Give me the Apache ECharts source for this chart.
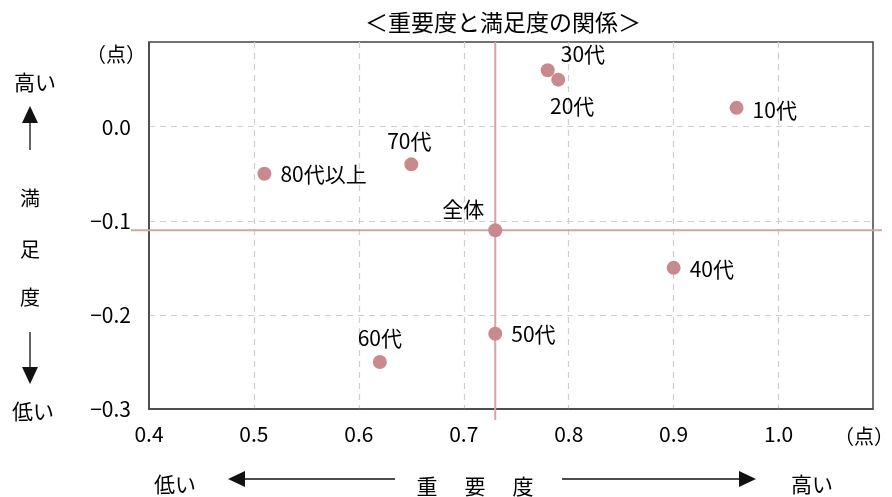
<!DOCTYPE html>
<html><head><meta charset="utf-8">
<script src="https://cdn.jsdelivr.net/npm/echarts@6/dist/echarts.min.js"></script>
<style>html,body{margin:0;padding:0;background:#fff}#c{width:892px;height:497px}</style>
</head><body><div id="c"></div>
<script>
const names = ['10代','20代','30代','40代','50代','60代','70代','80代以上'];
const importance = [0.96, 0.79, 0.78, 0.90, 0.73, 0.62, 0.65, 0.51];
const satisfaction = [0.02, 0.05, 0.06, -0.15, -0.22, -0.25, -0.04, -0.05];
const totalName = '全体';
const totalImportance = 0.73;
const totalSatisfaction = -0.11;
const labelPos = {
  '10代': {position:'right', distance:9, offset:[0,2]},
  '20代': {position:'bottom', distance:6, offset:[14,3]},
  '30代': {position:'right', distance:6, offset:[0,-16]},
  '40代': {position:'right', distance:9, offset:[0,1]},
  '50代': {position:'right', distance:9, offset:[0,0]},
  '60代': {position:'top', distance:6, offset:[0,0]},
  '70代': {position:'top', distance:6, offset:[-2,0]},
  '80代以上': {position:'right', distance:9, offset:[0,0]},
  '全体': {position:'top', distance:4, offset:[-32,0]}
};
const FONT = '"Noto Sans CJK JP", sans-serif';
const dotColor = '#c98a8d';
const lineColor = '#d7a3a6';

const pts = names.map((n,i)=>({name:n, value:[importance[i], satisfaction[i]], label:labelPos[n]}));
pts.push({name:totalName, value:[totalImportance,totalSatisfaction], label:labelPos[totalName]});

const chart = echarts.init(document.getElementById('c'));
function T(text, x, y, size, align){
  return {type:'text', x:x, y:y, style:{text:text, fontFamily:FONT, fontSize:size||20, fill:'#000',
    align:align||'center', verticalAlign:'middle'}};
}
function arrowPoly(pts){return {type:'polygon', shape:{points:pts}, style:{fill:'#111'}};}
function ln(x1,y1,x2,y2){return {type:'line', shape:{x1,y1,x2,y2}, style:{stroke:'#111', lineWidth:1.3}};}

chart.setOption({
  animation:false,
  title:{text:'＜重要度と満足度の関係＞', left:498, top:6, textAlign:'center',
    textStyle:{fontFamily:FONT, fontSize:23, fontWeight:'normal', color:'#000'}},
  grid:{left:149, right:19, top:42, bottom:88, show:true, borderColor:'#444', borderWidth:1.5},
  xAxis:{type:'value', min:0.4, max:1.09, interval:0.1,
    axisLine:{show:true, onZero:false, lineStyle:{color:'#444', width:1.5}},
    axisTick:{show:false},
    splitLine:{show:true, showMinLine:false, showMaxLine:false, lineStyle:{color:'#cfcfcf', type:[6,5], width:1.2}},
    axisLabel:{margin:15, showMaxLabel:false, fontFamily:FONT, fontSize:21, color:'#000',
      formatter:v=>v.toFixed(1)}},
  yAxis:{type:'value', min:-0.3, max:0.09, interval:0.1,
    axisLine:{show:true, onZero:false, lineStyle:{color:'#444', width:1.5}},
    axisTick:{show:false},
    splitLine:{show:true, showMinLine:false, showMaxLine:false, lineStyle:{color:'#cfcfcf', type:[6,5], width:1.2}},
    axisLabel:{margin:18, showMaxLabel:false, fontFamily:FONT, fontSize:21, color:'#000',
      formatter:v=>(Math.abs(v)<1e-9?0:v).toFixed(1).replace('-','−')}},
  series:[{type:'scatter', symbolSize:14, z:5,
    itemStyle:{color:dotColor, opacity:1},
    label:{show:true, formatter:'{b}', fontFamily:FONT, fontSize:21, color:'#000'},
    data:pts}]
});

const c = chart.convertToPixel({gridIndex:0}, [totalImportance, totalSatisfaction]);
chart.setOption({graphic:[
  {type:'line', z:3, shape:{x1:131, y1:c[1], x2:882, y2:c[1]}, style:{stroke:lineColor, lineWidth:2}},
  {type:'line', z:3, shape:{x1:c[0], y1:42, x2:c[0], y2:420}, style:{stroke:lineColor, lineWidth:2}},
  T('（点）', 116, 54, 20),
  T('（点）', 864, 436, 20),
  T('高い', 35, 82, 21),
  T('低い', 33, 411, 21),
  T('満', 30, 198, 20),
  T('足', 30, 249, 20),
  T('度', 30, 297, 20),
  ln(30,122,30,150), arrowPoly([[30,106],[22,123],[38,123]]),
  ln(30,332,30,368), arrowPoly([[30,384],[22,367],[38,367]]),
  T('低い', 175, 484, 21),
  T('重', 427, 486, 21),
  T('要', 475, 486, 21),
  T('度', 523, 486, 21),
  T('高い', 812, 484, 21),
  ln(244,479,395,479), arrowPoly([[228,479],[245,471],[245,487]]),
  ln(562,479,740,479), arrowPoly([[756,479],[739,471],[739,487]])
]});
</script></body></html>
